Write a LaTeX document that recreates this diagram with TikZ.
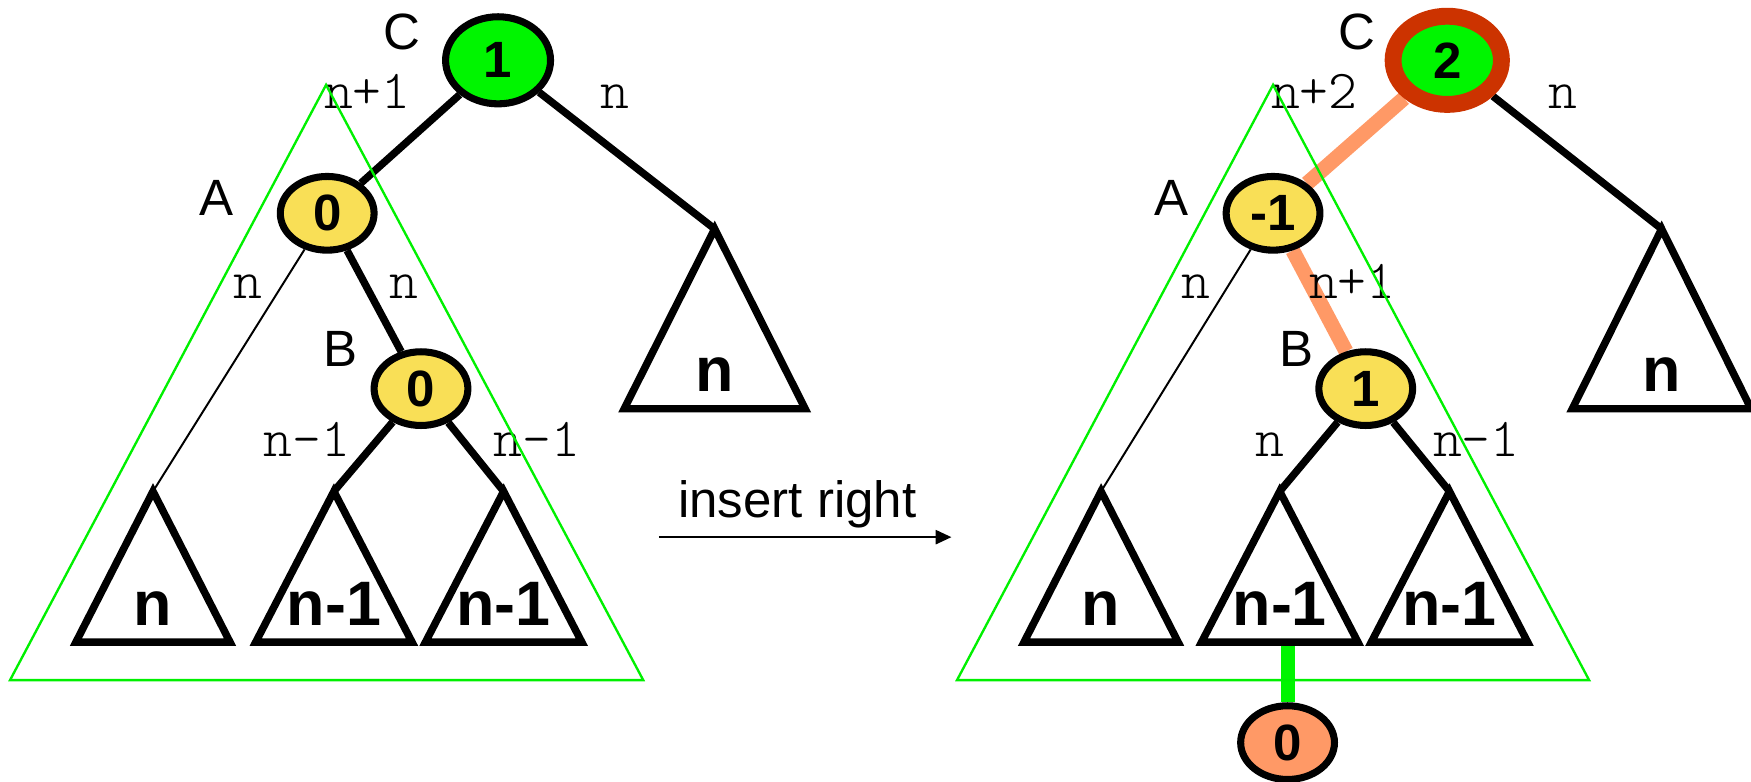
\documentclass[tikz,border=0pt]{standalone}
\usepackage{fontspec}
\setmainfont{Liberation Sans}
\setmonofont{Latin Modern Mono Light}
\usepackage{tikz}
\usetikzlibrary{shapes.geometric,arrows.meta,backgrounds}

\definecolor{avlgreen}{RGB}{0,245,0}
\definecolor{avlyellow}{RGB}{249,223,86}
\definecolor{avlsalmon}{RGB}{255,153,102}
\definecolor{avlred}{RGB}{204,51,0}
\definecolor{hullgreen}{RGB}{0,240,0}

\begin{document}
\begin{tikzpicture}[x=0.1mm, y=-0.1mm,
  bal/.style={ellipse, draw, line width=1.8pt, fill=avlyellow, inner sep=0pt,
              minimum width=8.4mm, minimum height=6.6mm,
              font=\fontsize{13}{13}\selectfont\bfseries},
  rootnode/.style={bal, fill=avlgreen, minimum width=9.4mm, minimum height=7.8mm},
  subtree/.style={draw, line width=1.9pt, line join=miter},
  sublbl/.style={anchor=base, font=\fontsize{16}{16}\selectfont\bfseries},
  link/.style={line width=1.9pt},
  thinlink/.style={line width=0.5pt},
  hotlink/.style={line width=3.8pt, avlsalmon},
  hull/.style={draw=hullgreen, line width=0.6pt, line join=miter},
  hgt/.style={anchor=base, font=\fontsize{14}{14}\selectfont\ttfamily},
  lbl/.style={anchor=base, font=\fontsize{13}{13}\selectfont}]
  \useasboundingbox (0,0) rectangle (1568,700);

  % subtrees: name/apex x/apex y/half width/height/label
  \foreach \nm/\x/\y/\w/\h/\t in {t1/137/440/69/135/n, t2/299/440/70/135/n-1,
                                  t3/451/440/70/135/n-1, tr/640/205/81/161/n,
                                  u1/986/440/69/135/n, u2/1146/440/70/135/n-1,
                                  u3/1298/440/70/135/n-1, ur/1488/205/80/161/n} {
    \draw[subtree] (\x,\y) coordinate (\nm) -- ++(-\w,\h) -- ++(2*\w,0) -- cycle;
    \node[sublbl] at (\x,\y+\h-15) {\t};
  }

  % before
  \node[rootnode] (C1) at (446,54) {1};
  \node[bal] (A1) at (293,191) {0};
  \node[bal] (B1) at (377,348) {0};

  % after
  \node[rootnode, draw=avlred, line width=4.3pt,
        minimum width=9.7mm, minimum height=7.9mm] (C2) at (1296,54) {2};
  \node[bal] (A2) at (1140,191) {-1};
  \node[bal] (B2) at (1223,348) {1};
  \node[bal, fill=avlsalmon] (N2) at (1153,665) {0};
  \coordinate (u2b) at (1153,575);

  \begin{scope}[on background layer]
    \draw[link] (C1) -- (A1);
    \draw[link] (C1) -- (tr);
    \draw[thinlink] (A1) -- (t1);
    \draw[link] (A1) -- (B1);
    \draw[link] (B1) -- (t2);
    \draw[link] (B1) -- (t3);
    \draw[hotlink] (C2) -- (A2);
    \draw[link] (C2) -- (ur);
    \draw[thinlink] (A2) -- (u1);
    \draw[hotlink] (A2) -- (B2);
    \draw[link] (B2) -- (u2);
    \draw[link] (B2) -- (u3);
    \draw[line width=3.6pt, avlgreen] (N2) -- (u2b);
  \end{scope}

  % node names
  \foreach \x/\y/\l in {360/44/C, 194/193/A, 305/328/B,
                        1215/44/C, 1049/193/A, 1161/328/B}
    \node[lbl] at (\x,\y) {\l};

  % heights
  \foreach \x/\y/\l in {329/97/n+1, 551/97/n, 222/267/n, 362/267/n,
                        275/409/n-1, 481/409/n-1,
                        1177/97/n+2, 1400/97/n, 1071/267/n, 1211/267/n+1,
                        1137/409/n, 1322/409/n-1}
    \node[hgt] at (\x,\y) {\l};

  % green hulls
  \draw[hull] (292,76) -- (9,609) -- (576,609) -- cycle;
  \draw[hull] (1140,76) -- (857,609) -- (1423,609) -- cycle;

  % insertion arrow
  \coordinate (ins0) at (590,481);
  \coordinate (ins1) at (852,481);
  \draw[line width=0.5pt, -{Triangle[length=4pt, width=3.6pt]}] (ins0) -- (ins1);
  \node[lbl] (insl) at (714,463) {insert right};
\end{tikzpicture}
\end{document}
